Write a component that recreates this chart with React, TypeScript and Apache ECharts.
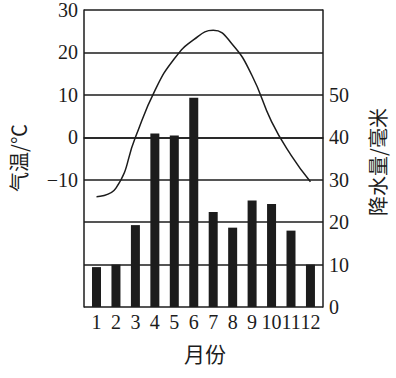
import React, { useEffect, useRef } from "react";
import * as echarts from "echarts";

const months = [1, 2, 3, 4, 5, 6, 7, 8, 9, 10, 11, 12];
const precipitation = [9.4, 10, 19.3, 40.9, 40.4, 49.3, 22.4, 18.7, 25.1, 24.3, 18, 10];
const temperature = [-14, -12, 0, 11, 18.5, 23, 25.2, 21.8, 14.5, 3.7, -4.2, -10.5];
const tempTicks = [-10, 0, 10, 20, 30];
const precipTicks = [0, 10, 20, 30, 40, 50];

const SERIF = "'Liberation Serif', 'DejaVu Serif', serif";
const CJK = "'Noto Sans CJK SC', sans-serif";
const INK = "#1c1c1c";

export default function App() {
  const ref = useRef<HTMLDivElement>(null);
  useEffect(() => {
    if (!ref.current) return;
    const chart = echarts.init(ref.current, null, { renderer: "svg" });
    chart.setOption({
      animation: false,
      backgroundColor: "#ffffff",
      grid: { left: 84, right: 73, top: 7, bottom: 71 },
      xAxis: {
        type: "value",
        min: 0.357,
        max: 12.645,
        axisLine: { show: true, lineStyle: { color: INK, width: 1.5 } },
        axisTick: { show: false },
        splitLine: { show: false },
        axisLabel: {
          customValues: months,
          formatter: (v: number) => String(Math.round(v)),
          fontFamily: SERIF,
          fontSize: 20,
          color: INK,
          margin: 5,
        },
      },
      yAxis: [
        {
          type: "value",
          min: -40,
          max: 30,
          interval: 10,
          position: "left",
          axisLine: { show: true, lineStyle: { color: INK, width: 1.5 } },
          axisTick: { show: false },
          splitLine: { show: true, lineStyle: { color: INK, width: 1.5 } },
          axisLabel: {
            customValues: tempTicks,
            formatter: (v: number) => (v < 0 ? "\u2212" + Math.abs(v) : String(v)),
            fontFamily: SERIF,
            fontSize: 20,
            color: INK,
            margin: 6,
            padding: [14, 0, 0, 0],
          },
        },
        {
          type: "value",
          min: 0,
          max: 70,
          interval: 10,
          position: "right",
          axisLine: { show: true, lineStyle: { color: INK, width: 1.5 } },
          axisTick: { show: false },
          splitLine: { show: false },
          axisLabel: {
            customValues: precipTicks,
            fontFamily: SERIF,
            fontSize: 20,
            color: INK,
            margin: 6,
          },
        },
      ],
      series: [
        {
          type: "bar",
          yAxisIndex: 1,
          data: months.map((m, i) => [m, precipitation[i]]),
          barWidth: 9,
          itemStyle: { color: INK },
          z: 2,
        },
        {
          type: "line",
          yAxisIndex: 0,
          data: months.map((m, i) => [m, temperature[i]]),
          smooth: 0.5,
          showSymbol: false,
          symbol: "none",
          lineStyle: { color: INK, width: 1.5 },
          z: 3,
        },
      ],
      graphic: [
        {
          type: "text",
          x: 18,
          y: 158,
          rotation: Math.PI / 2,
          style: {
            text: "气温/℃",
            fontFamily: CJK,
            fontSize: 20,
            fill: INK,
            align: "center",
            verticalAlign: "middle",
          },
        },
        {
          type: "text",
          x: 377,
          y: 162,
          rotation: Math.PI / 2,
          style: {
            text: "降水量/毫米",
            fontFamily: CJK,
            fontSize: 20,
            fill: INK,
            align: "center",
            verticalAlign: "middle",
          },
        },
        {
          type: "text",
          x: 205,
          y: 353,
          style: {
            text: "月份",
            fontFamily: CJK,
            fontSize: 21,
            fill: INK,
            align: "center",
            verticalAlign: "middle",
          },
        },
      ],
    });
    return () => chart.dispose();
  }, []);
  return (
    <div
      ref={ref}
      style={{ position: "fixed", left: 0, top: 0, width: 396, height: 378, background: "#fff" }}
    />
  );
}
